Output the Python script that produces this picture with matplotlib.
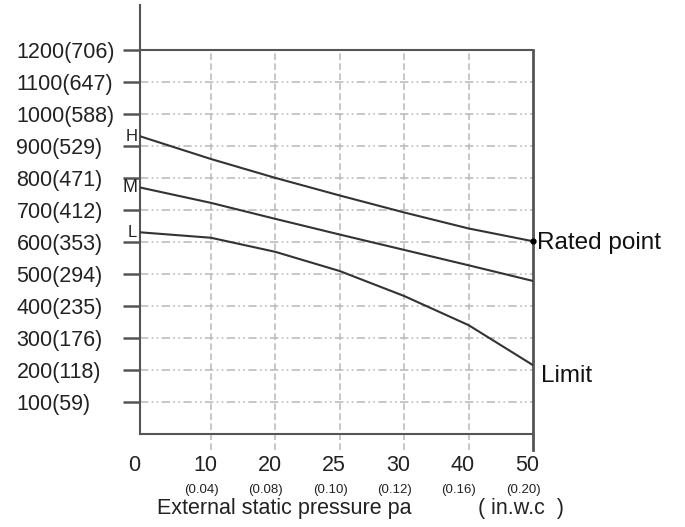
import matplotlib.pyplot as plt
import numpy as np

plt.rcParams['font.family'] = ['Liberation Sans', 'DejaVu Sans']

# pressure steps (pa) with in.w.c equivalents
pressure_pa = ['0', '10', '20', '25', '30', '40', '50']
pressure_inwc = ['', '(0.04)', '(0.08)', '(0.10)', '(0.12)', '(0.16)', '(0.20)']
x_pos = [0, 1.1, 2.1, 3.1, 4.1, 5.1, 6.1]

# airflow curves per fan speed
flow_h = [930, 859, 800, 745, 692, 642, 602]
flow_m = [770, 722, 672, 623, 575, 527, 478]
flow_l = [630, 613, 569, 509, 431, 340, 215]

y_ticks = [100, 200, 300, 400, 500, 600, 700, 800, 900, 1000, 1100, 1200]
y_labels = ['100(59)', '200(118)', '300(176)', '400(235)', '500(294)', '600(353)',
            '700(412)', '800(471)', '900(529)', '1000(588)', '1100(647)', '1200(706)']

fig = plt.figure(figsize=(6.85, 5.27), dpi=100)
ax = fig.add_axes([0.2044, 0.1765, 0.5737, 0.814])

ymax = 1340
xmax = x_pos[-1]
ax.set_xlim(0, xmax)
ax.set_ylim(0, ymax)

grid_c = '#bdbdbd'
for y in y_ticks[:-1]:
    ax.plot([0, xmax], [y, y], color=grid_c, lw=1.2, ls=(0, (5, 2, 1, 2, 1, 2)), zorder=1)
for x in x_pos[1:-1]:
    ax.plot([x, x], [-50, 1200], color=grid_c, lw=1.2, ls=(0, (4, 2)), zorder=1, clip_on=False)

# box top and right side
ax.plot([0, xmax], [1200, 1200], color='#555555', lw=1.5, zorder=2)
ax.plot([xmax, xmax], [-50, 1200], color='#555555', lw=2, zorder=2, clip_on=False)

line_c = '#333333'
ax.plot(x_pos, flow_h, color=line_c, lw=1.5, zorder=3)
ax.plot(x_pos, flow_m, color=line_c, lw=1.5, zorder=3)
ax.plot(x_pos, flow_l, color=line_c, lw=1.5, zorder=3)
ax.plot([x_pos[-1]], [flow_h[-1]], 'o', color='black', ms=3.5, zorder=4, clip_on=False)

for lbl, series, fs in [('H', flow_h, 12), ('M', flow_m, 13), ('L', flow_l, 12)]:
    ax.annotate(lbl, (0, series[0]), xytext=(-2, 0), textcoords='offset points',
                ha='right', va='center', fontsize=fs, color='#222222')

ax.annotate('Rated point', (xmax, flow_h[-1]), xytext=(3, -1), textcoords='offset points',
            ha='left', va='center', fontsize=17.5, color='#111111', annotation_clip=False)
ax.annotate('Limit', (xmax, flow_l[-1]), xytext=(6, -8), textcoords='offset points',
            ha='left', va='center', fontsize=17.5, color='#111111', annotation_clip=False)

# axes styling
for s in ['top', 'right']:
    ax.spines[s].set_visible(False)
ax.spines['left'].set_color('#555555')
ax.spines['left'].set_linewidth(1.5)
ax.spines['bottom'].set_color('#555555')
ax.spines['bottom'].set_linewidth(1.5)

ax.set_yticks(y_ticks)
ax.set_yticklabels([])
ax.tick_params(axis='y', length=12, width=1.8, color='#555555')
ax.set_xticks([])

# left-aligned y labels, as in the original
for y, lbl in zip(y_ticks, y_labels):
    ax.annotate(lbl, (0, y), xytext=(-89, -2), textcoords='offset points',
                ha='left', va='center', fontsize=15.5, color='#222222')

for x, main, sub in zip(x_pos, pressure_pa, pressure_inwc):
    ax.annotate(main, (x, 0), xycoords=('data', 'axes fraction'), xytext=(-4, -23),
                textcoords='offset points', ha='center', va='center', fontsize=15.5, color='#222222')
    if sub:
        ax.annotate(sub, (x, 0), xycoords=('data', 'axes fraction'), xytext=(-7, -40),
                    textcoords='offset points', ha='center', va='center', fontsize=9.5, color='#222222')

ax.annotate('External static pressure pa', (x_pos[3], 0), xycoords=('data', 'axes fraction'),
            xytext=(-40, -54), textcoords='offset points', ha='center', va='center',
            fontsize=15.5, color='#222222')
ax.annotate('( in.w.c  )', (x_pos[5], 0), xycoords=('data', 'axes fraction'),
            xytext=(38, -54), textcoords='offset points', ha='center', va='center',
            fontsize=15.5, color='#222222')

fig.savefig('out.png', dpi=100)
